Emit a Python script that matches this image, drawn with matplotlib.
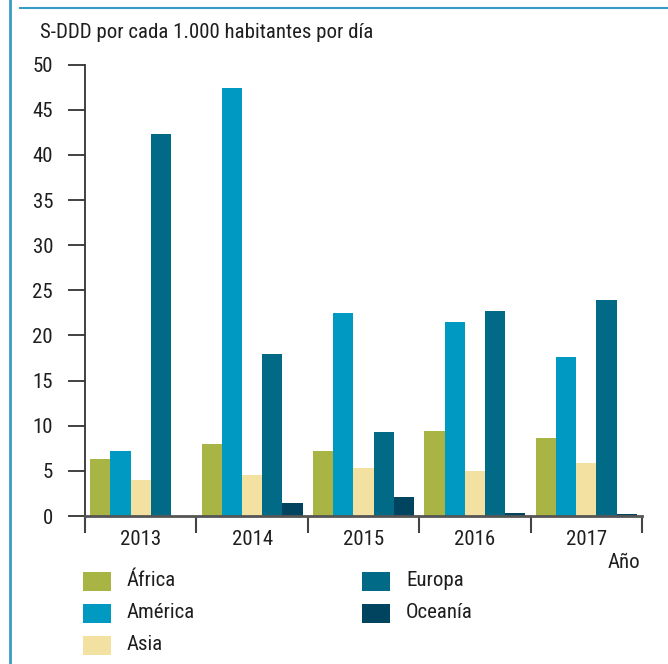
import matplotlib
matplotlib.use("Agg")
import matplotlib.pyplot as plt
import matplotlib.font_manager as fm
import numpy as np
from matplotlib.lines import Line2D

# pick a condensed sans if available
fp = None
cands = [f for f in fm.fontManager.ttflist
         if ('Condensed' in f.fname or 'Narrow' in f.fname or 'Cond' in f.name)
         and 'Bold' not in f.fname and 'Oblique' not in f.fname and 'Italic' not in f.fname
         and 'Light' not in f.fname and 'Thin' not in f.fname]
pref = ['RobotoCondensed', 'LiberationSansNarrow', 'DejaVuSansCondensed', 'OpenSans_Condensed', 'OpenSansCondensed']
chosen = None
for p in pref:
    for f in cands:
        if p.lower() in f.fname.replace('-', '').replace(' ', '').lower():
            chosen = f.fname
            break
    if chosen:
        break
if chosen is None and cands:
    chosen = cands[0].fname
if chosen:
    fp = fm.FontProperties(fname=chosen)
else:
    fp = fm.FontProperties(family='DejaVu Sans')
fp.set_size(15)

years = ['2013', '2014', '2015', '2016', '2017']
series_names = ['África', 'América', 'Asia', 'Europa', 'Oceanía']
africa = [6.3, 8.0, 7.2, 9.4, 8.6]
america = [7.2, 47.4, 22.5, 21.5, 17.6]
asia = [4.0, 4.5, 5.3, 5.0, 5.9]
europa = [42.3, 18.0, 9.3, 22.7, 23.9]
oceania = [0.0, 1.4, 2.1, 0.3, 0.2]
colors = ['#a8b545', '#0099c2', '#f3e1a1', '#006a87', '#00445f']
yticks = [0, 5, 10, 15, 20, 25, 30, 35, 40, 45, 50]

W, H = 668, 664
fig = plt.figure(figsize=(W / 100, H / 100), dpi=100)
ax = fig.add_axes([85 / W, 1 - 516 / H, (642 - 85) / W, (516 - 64.7) / H])

x = np.arange(len(years))
bw = 0.1813
data = [africa, america, asia, europa, oceania]
for i, (vals, c) in enumerate(zip(data, colors)):
    ax.bar(x + (i - 2) * bw, vals, width=bw, color=c, linewidth=0, zorder=2)

ax.set_xlim(-0.5, len(years) - 0.5)
ax.set_ylim(0, 50)
ax.set_yticks(yticks)
ax.set_yticklabels([str(v) for v in yticks], fontproperties=fp)
ax.set_xticks(np.arange(-0.5, len(years), 1.0))
ax.set_xticklabels([])
ax.set_xticks(x, minor=True)
ax.set_xticklabels(years, minor=True, fontproperties=fp)

tc = '#333333'
txt = '#1e1e1e'
for s in ['top', 'right']:
    ax.spines[s].set_visible(False)
ax.spines['left'].set_color(tc)
ax.spines['left'].set_linewidth(1.3)
ax.spines['bottom'].set_color('#555555')
ax.spines['bottom'].set_linewidth(2)
ax.spines['bottom'].set_zorder(3)
ax.tick_params(axis='y', length=12, width=1.3, color=tc, pad=11, labelcolor=txt)
ax.tick_params(axis='x', which='major', length=12, width=1.5, color='#444444')
ax.tick_params(axis='x', which='minor', length=0, pad=10, labelcolor=txt)

fig.text(40 / W, 1 - 32 / H, 'S-DDD por cada 1.000 habitantes por día', fontproperties=fp,
         color=txt, va='center', ha='left')
fig.text(608 / W, 1 - 563 / H, 'Año', fontproperties=fp, color=txt, va='center', ha='left')

# frame lines
fig.add_artist(Line2D([9.5 / W, 9.5 / W], [0, 1], transform=fig.transFigure,
                      color='#3a9cc4', linewidth=2))
fig.add_artist(Line2D([20 / W, 1], [1 - 7.5 / H, 1 - 7.5 / H], transform=fig.transFigure,
                      color='#3a9cc4', linewidth=1.5))

# legend
pos = [(83, 581), (83, 613), (83, 645), (362, 581), (362, 613)]
for (px, py), name, c in zip(pos, series_names, colors):
    fig.add_artist(plt.Rectangle((px / W, 1 - (py + 9.5) / H), 28 / W, 19 / H,
                                 transform=fig.transFigure, color=c, linewidth=0))
    fig.text((px + 44) / W, 1 - py / H, name, fontproperties=fp, color=txt,
             va='center', ha='left')

fig.savefig('out.png', dpi=100)
